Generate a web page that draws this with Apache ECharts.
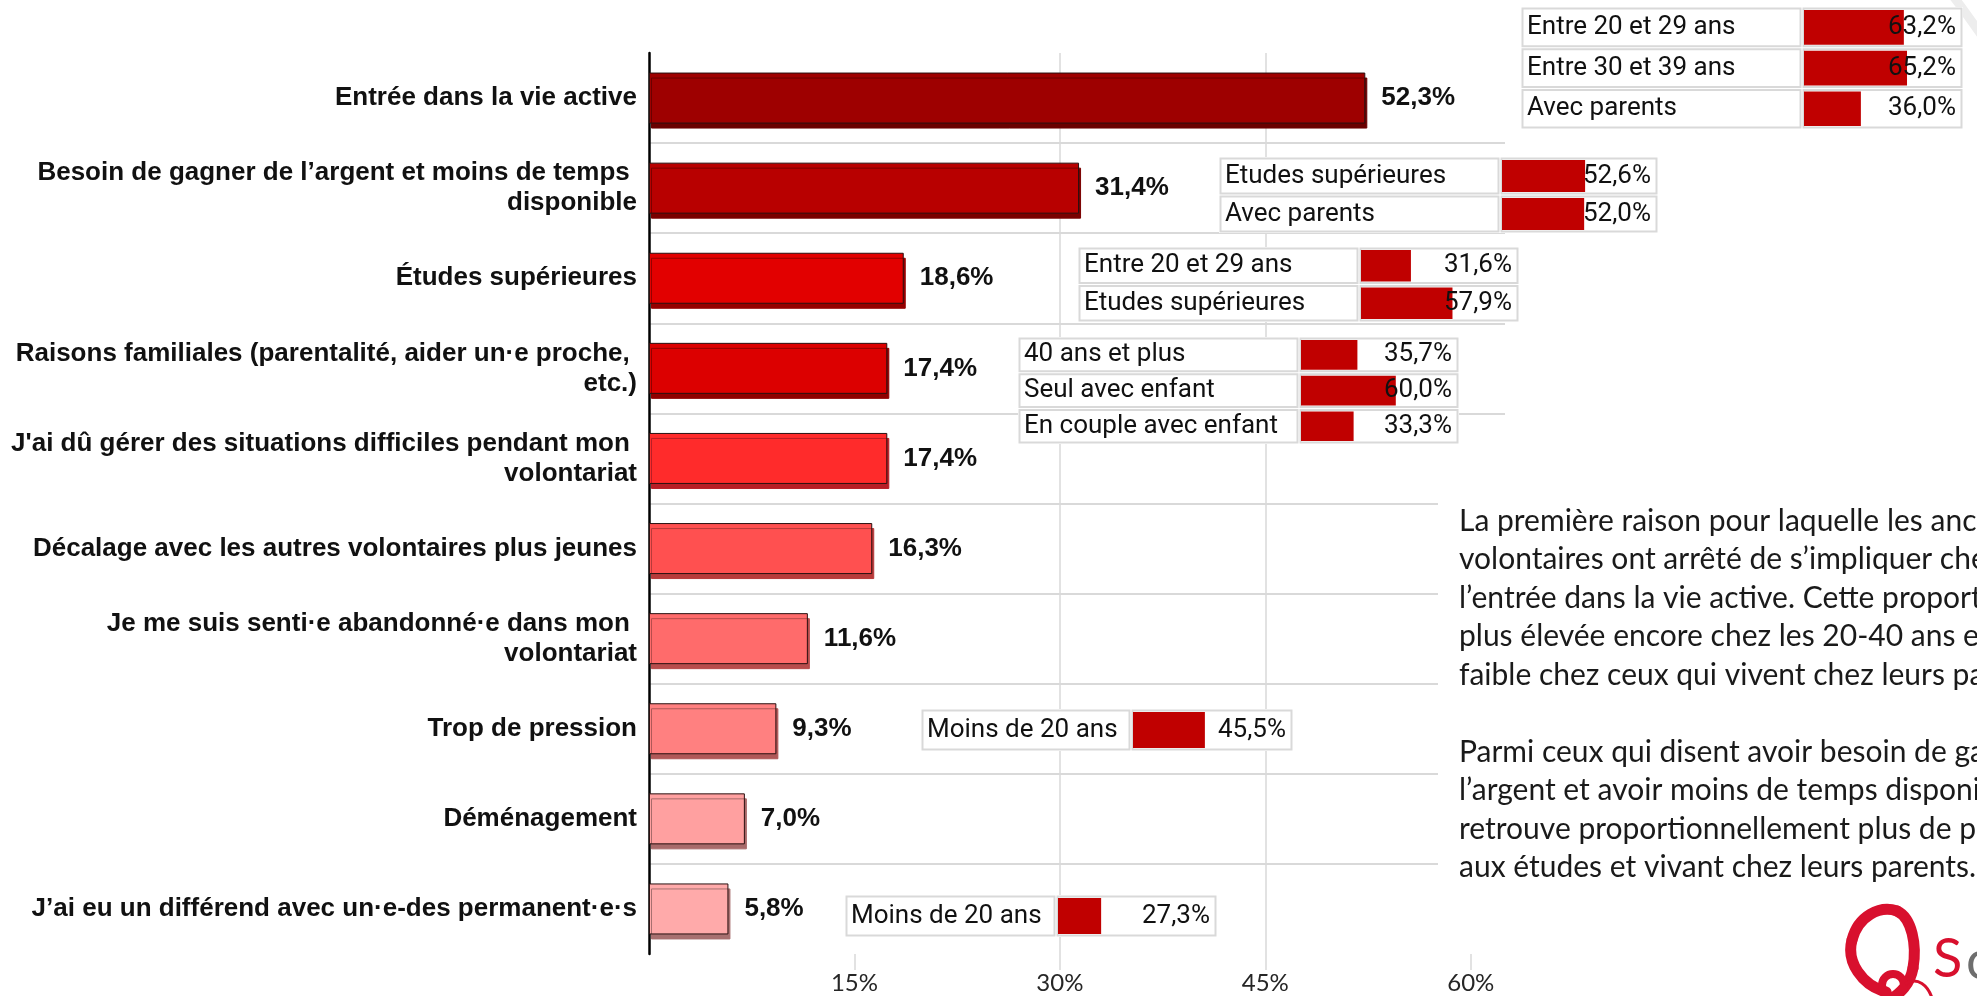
<!DOCTYPE html>
<html>
<head>
<meta charset="utf-8">
<script src="https://cdn.jsdelivr.net/npm/echarts@6/dist/echarts.min.js"></script>
<style>
  html, body { margin: 0; padding: 0; background: #ffffff; }
  #chart { width: 1977px; height: 996px; }
</style>
</head>
<body>
<div id="chart"></div>
<script>
// Reasons for stopping volunteering (share of former volunteers, %)
const categories = [
  'Entrée dans la vie active',
  'Besoin de gagner de l’argent et moins de temps \ndisponible',
  'Études supérieures',
  'Raisons familiales (parentalité, aider un·e proche, \netc.)',
  'J\'ai dû gérer des situations difficiles pendant mon \nvolontariat',
  'Décalage avec les autres volontaires plus jeunes',
  'Je me suis senti·e abandonné·e dans mon \nvolontariat',
  'Trop de pression',
  'Déménagement',
  'J’ai eu un différend avec un·e-des permanent·e·s'
];
const shares = [52.3, 31.4, 18.6, 17.4, 17.4, 16.3, 11.6, 9.3, 7.0, 5.8];
const xTickValues = [15, 30, 45, 60];

// Profiles over-represented for some reasons (share within the profile, %)
const activeLifeProfiles = ['Entre 20 et 29 ans', 'Entre 30 et 39 ans', 'Avec parents'];
const activeLifeShares = [63.2, 65.2, 36.0];
const moneyProfiles = ['Etudes supérieures', 'Avec parents'];
const moneyShares = [52.6, 52.0];
const studiesProfiles = ['Entre 20 et 29 ans', 'Etudes supérieures'];
const studiesShares = [31.6, 57.9];
const familyProfiles = ['40 ans et plus', 'Seul avec enfant', 'En couple avec enfant'];
const familyShares = [35.7, 60.0, 33.3];
const pressureProfiles = ['Moins de 20 ans'];
const pressureShares = [45.5];
const disputeProfiles = ['Moins de 20 ans'];
const disputeShares = [27.3];

const paragraphLines = [
  'La première raison pour laquelle les anciens',
  'volontaires ont arrêté de s’impliquer chez nous est',
  'l’entrée dans la vie active. Cette proportion est',
  'plus élevée encore chez les 20-40 ans et plus',
  'faible chez ceux qui vivent chez leurs parents.',
  '',
  'Parmi ceux qui disent avoir besoin de gagner de',
  'l’argent et avoir moins de temps disponible, on',
  'retrouve proportionnellement plus de personnes',
  'aux études et vivant chez leurs parents.'
];

// ---- styling ----
const barColors = ['#9E0000', '#B80000', '#E20000', '#DC0000', '#FF2B2B',
                   '#FF5050', '#FF6B6B', '#FF8080', '#FFA0A0', '#FFAAAA'];
const edgeColors = ['#6A0000', '#7A0000', '#950000', '#900000', '#B81E26',
                    '#B83A3A', '#B84C4C', '#B05858', '#A86A6A', '#A87070'];
const boldFont = "'Liberation Sans', Arial, sans-serif";
const tableFont = "Roboto, 'Liberation Sans', sans-serif";
const bodyFont = "Lato, 'Open Sans', sans-serif";
const gridGrey = '#D9D9D9';

const fmtPct = v => v.toFixed(1).replace('.', ',') + '%';

// Inset table placement: x, y, label cell width, bar cell width, row pitch
const insetData = [
  [activeLifeProfiles, activeLifeShares],
  [moneyProfiles, moneyShares],
  [studiesProfiles, studiesShares],
  [familyProfiles, familyShares],
  [pressureProfiles, pressureShares],
  [disputeProfiles, disputeShares]
];
const insetBoxes = [
  { x: 1521, y: 7,   labelW: 281, barW: 161, rowH: 40.7 },
  { x: 1219, y: 157, labelW: 281, barW: 158, rowH: 38 },
  { x: 1078, y: 247, labelW: 281, barW: 160, rowH: 37.5 },
  { x: 1018, y: 337, labelW: 281, barW: 160, rowH: 35.7 },
  { x: 921,  y: 709, labelW: 210, barW: 162, rowH: 42 },
  { x: 845,  y: 895, labelW: 211, barW: 161, rowH: 42 }
];
const miniScaleWidth = 158; // pixels for 0–100 %

const grids = [{ left: 649, top: 53, right: 472, bottom: 42 }];
const xAxes = [{
  type: 'value', min: 0, max: 62.5, interval: 15,
  axisLine: { show: false },
  axisTick: { show: true, customValues: xTickValues, length: 16, lineStyle: { color: gridGrey, width: 1.5 } },
  axisLabel: {
    margin: 17, color: '#262626', fontFamily: bodyFont, fontSize: 24,
    formatter: v => (xTickValues.indexOf(v) >= 0 ? v + '%' : '')
  },
  splitLine: { show: true, showMinLine: false, showMaxLine: false, lineStyle: { color: gridGrey, width: 1.5 } }
}];
const yAxes = [{
  type: 'category', inverse: true, data: categories,
  axisLine: { show: true, lineStyle: { color: '#000', width: 2.5 } },
  axisTick: { show: false },
  axisLabel: {
    margin: 12, color: '#111', fontFamily: boldFont, fontWeight: 'bold',
    fontSize: 26, lineHeight: 30, align: 'right'
  },
  splitLine: { show: true, showMinLine: false, showMaxLine: false, lineStyle: { color: gridGrey, width: 2 } }
}];
const series = [{
  type: 'bar', xAxisIndex: 0, yAxisIndex: 0, barWidth: 51, z: 2,
  data: shares.map((v, i) => ({
    value: v,
    itemStyle: {
      color: barColors[i], borderColor: '#2A1010', borderWidth: 1,
      shadowColor: edgeColors[i], shadowOffsetX: 2, shadowOffsetY: 5, shadowBlur: 0
    }
  })),
  label: {
    show: true, position: 'right', distance: 16,
    fontFamily: boldFont, fontWeight: 'bold', fontSize: 26, color: '#111',
    formatter: p => fmtPct(p.value)
  }
}];

const graphics = [];

// white box behind the commentary text
graphics.push({ type: 'rect', z: 1, silent: true,
  shape: { x: 1438, y: 490, width: 539, height: 407 }, style: { fill: '#fff' } });
graphics.push({ type: 'text', z: 3, silent: true, x: 1459, y: 502,
  style: { text: paragraphLines.join('\n'), fill: '#1a1a1a', font: '30px ' + bodyFont,
           lineHeight: 38.5, verticalAlign: 'top', align: 'left' } });

insetData.forEach(([labels, vals], k) => {
  const b = insetBoxes[k];
  const n = labels.length;
  const gi = k + 1;
  graphics.push({ type: 'rect', z: 1, silent: true,
    shape: { x: b.x, y: b.y, width: b.labelW + b.barW, height: n * b.rowH },
    style: { fill: '#fff' } });
  for (let r = 0; r < n; r++) {
    const cy = b.y + r * b.rowH;
    [[b.x, b.labelW], [b.x + b.labelW, b.barW]].forEach(([cx, w]) => {
      graphics.push({ type: 'rect', z: 1, silent: true,
        shape: { x: cx + 1.5, y: cy + 1.5, width: w - 3, height: b.rowH - 3 },
        style: { fill: '#fff', stroke: gridGrey, lineWidth: 2 } });
    });
  }
  const gLeft = b.x + b.labelW + 2;
  grids.push({ left: gLeft, top: b.y, width: miniScaleWidth, height: n * b.rowH });
  xAxes.push({ gridIndex: gi, type: 'value', min: 0, max: 100, show: false });
  yAxes.push({
    gridIndex: gi, type: 'category', inverse: true, data: labels, z: 3,
    axisLine: { show: false }, axisTick: { show: false }, splitLine: { show: false },
    axisLabel: { align: 'left', margin: gLeft - (b.x + 6), color: '#111',
                 fontFamily: tableFont, fontSize: 26 }
  });
  series.push({
    type: 'bar', xAxisIndex: gi, yAxisIndex: gi, z: 3, barWidth: b.rowH - 6,
    data: vals, itemStyle: { color: '#C00000' },
    label: { show: true, position: [b.barW - 9, '50%'], align: 'right', verticalAlign: 'middle',
             color: '#111', fontFamily: tableFont, fontSize: 26, formatter: p => fmtPct(p.value) }
  });
});

// faint decorative arc in the top corner
graphics.push({ type: 'bezierCurve', z: 0, silent: true,
  shape: { x1: 1953, y1: -4, cpx1: 1964, cpy1: 10, cpx2: 1972, cpy2: 22, x2: 1982, y2: 36 },
  style: { fill: 'none', stroke: '#EDEDED', lineWidth: 9 } });

// logo, partly outside the page
const logoRed = '#D8102E';
const logoCurves = [
  { x1: 1886, y1: 992, cpx1: 1862, cpy1: 985, cpx2: 1846, cpy2: 962, x2: 1852, y2: 940 },
  { x1: 1852, y1: 940, cpx1: 1858, cpy1: 916, cpx2: 1880, cpy2: 905, x2: 1897, y2: 911 },
  { x1: 1897, y1: 911, cpx1: 1912, cpy1: 918, cpx2: 1917, cpy2: 945, x2: 1913, y2: 968 },
  { x1: 1913, y1: 968, cpx1: 1910, cpy1: 985, cpx2: 1900, cpy2: 993, x2: 1890, y2: 1000 }
];
logoCurves.forEach(c => graphics.push({ type: 'bezierCurve', z: 3, silent: true, shape: c,
  style: { fill: 'none', stroke: logoRed, lineWidth: 11, lineCap: 'round' } }));
graphics.push({ type: 'ring', z: 3, silent: true,
  shape: { cx: 1893, cy: 985, r: 15, r0: 7 }, style: { fill: logoRed } });
graphics.push({ type: 'bezierCurve', z: 3, silent: true,
  shape: { x1: 1905, y1: 984, cpx1: 1918, cpy1: 976, cpx2: 1928, cpy2: 986, x2: 1932, y2: 998 },
  style: { fill: 'none', stroke: logoRed, lineWidth: 3 } });
graphics.push({ type: 'text', z: 3, silent: true, x: 1933, y: 960,
  style: { text: 'S', fill: logoRed, font: '54px ' + bodyFont, verticalAlign: 'middle' } });
graphics.push({ type: 'text', z: 3, silent: true, x: 1966, y: 962,
  style: { text: 'c', fill: '#6E6E6E', font: '54px ' + bodyFont, verticalAlign: 'middle' } });

const chart = echarts.init(document.getElementById('chart'), null, { renderer: 'canvas' });
chart.setOption({
  animation: false,
  backgroundColor: '#ffffff',
  grid: grids,
  xAxis: xAxes,
  yAxis: yAxes,
  series: series,
  graphic: { elements: graphics }
});
</script>
</body>
</html>
